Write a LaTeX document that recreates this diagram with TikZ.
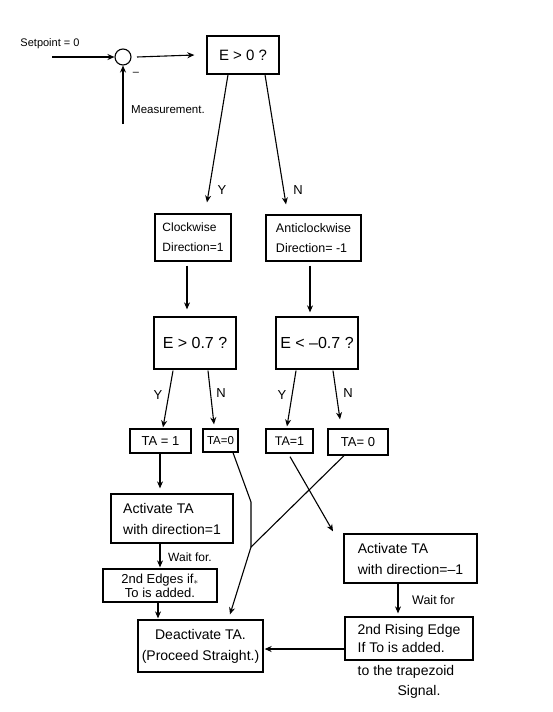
\documentclass[tikz,border=0pt]{standalone}
\usepackage{fontspec}
\setmainfont{Liberation Sans}
\usetikzlibrary{arrows.meta}
\newcommand{\myfs}[2]{\fontsize{#1}{#2}\selectfont}
\tikzset{
  box/.style={draw, line width=1.3pt, inner sep=2pt, align=center},
  conn/.style={line width=1.1pt, -{Stealth[length=7pt,width=6pt]}},
  plain/.style={line width=1.1pt},
  lbl/.style={inner sep=0pt, font=\myfs{13}{16}},
}
\begin{document}
\begin{tikzpicture}[x=1pt,y=-1pt]
\useasboundingbox[fill=white] (0,0) rectangle (553,712);

% summing junction
\node[draw, circle, line width=1.1pt, minimum size=16pt, inner sep=0pt] (sum) at (123,57) {};
\node[inner sep=0pt, font=\myfs{11}{13}] (sptxt) at (50,44) {Setpoint = 0};
\coordinate (sp) at (52,57);
\draw[conn] (sp) -- (sum.west);
\node[inner sep=0pt, font=\myfs{11}{13}] (minus) at (136,74) {--};
\coordinate (meas) at (123,124);
\draw[conn] (meas) -- (sum.south);
\node[inner sep=0pt, font=\myfs{11.5}{13}, anchor=west] (meastxt) at (131,110) {Measurement.};

% boxes
\node[box, minimum width=72pt, minimum height=38pt, font=\myfs{15}{17}] (e0) at (243,55) {E > 0 ?};
\coordinate (so) at (137,57);
\draw[conn] (so) -- ([xshift=-12pt]e0.west);

\node[box, minimum width=76pt, minimum height=47pt, font=\myfs{12}{20}, align=left] (cw) at (193,237.5) {Clockwise\\Direction=1};
\node[box, minimum width=95pt, minimum height=46pt, font=\myfs{12.5}{20}, align=left] (acw) at (313.5,238) {Anticlockwise\\Direction= -1};

\draw[conn] ([xshift=-15pt]e0.south) -- ([xshift=14pt,yshift=11pt]cw.north);
\draw[conn] ([xshift=22pt]e0.south) -- ([xshift=-27.5pt,yshift=10pt]acw.north);
\node[lbl] (y1) at (222,190) {Y};
\node[lbl] (n1) at (298,190) {N};

\node[box, minimum width=82pt, minimum height=52pt, font=\myfs{16}{18}] (e07) at (195,343) {E > 0.7 ?};
\node[box, minimum width=82pt, minimum height=52pt, font=\myfs{16}{18}] (em07) at (317,343) {E < --0.7 ?};

\draw[conn] ([xshift=-6pt,yshift=-4pt]cw.south) -- ([xshift=-8pt,yshift=7pt]e07.north);
\draw[conn] ([xshift=-3.5pt,yshift=-4pt]acw.south) -- ([xshift=-7pt,yshift=4pt]em07.north);

\node[box, minimum width=61pt, minimum height=24pt, font=\myfs{13}{14}] (ta1) at (160.5,441) {TA = 1};
\node[box, minimum width=35pt, minimum height=23pt, font=\myfs{11.5}{13}, inner sep=1pt] (ta0) at (220.5,440.5) {TA=0};
\node[box, minimum width=47pt, minimum height=24pt, font=\myfs{12.5}{13}] (ta1b) at (289.5,441) {TA=1};
\node[box, minimum width=60pt, minimum height=26pt, font=\myfs{13}{14}] (ta0b) at (358,442) {TA= 0};

\draw[conn] ([xshift=-22pt,yshift=-1pt]e07.south) -- ([xshift=2.5pt,yshift=1pt]ta1.north);
\draw[conn] ([xshift=13pt,yshift=-1pt]e07.south) -- ([xshift=-6.5pt,yshift=4pt]ta0.north);
\draw[conn] ([xshift=-21pt,yshift=-1pt]em07.south) -- ([xshift=-2.5pt,yshift=2pt]ta1b.north);
\draw[conn] ([xshift=16pt,yshift=-1pt]em07.south) -- ([xshift=-18pt,yshift=9pt]ta0b.north);
\node[lbl] (y2) at (158,395) {Y};
\node[lbl] (n2) at (221,393) {N};
\node[lbl] (y3) at (282,395) {Y};
\node[lbl] (n3) at (348,393) {N};

\node[box, minimum width=122pt, minimum height=49pt, font=\myfs{14}{21}, align=left] (act1) at (172,518.5) {Activate TA\\ with direction=1};
\node[box, minimum width=114pt, minimum height=33pt, font=\myfs{13}{14}, inner sep=1pt] (edge1) at (160,585.5) {2nd Edges if$_*$\\To is added.};
\node[box, minimum width=125pt, minimum height=52pt, font=\myfs{14}{21}, inner sep=1pt] (deact) at (200.5,646) {Deactivate TA.\\(Proceed Straight.)};
\node[box, minimum width=133pt, minimum height=49pt, font=\myfs{14}{21}, align=left] (act2) at (410.5,558.5) {Activate TA\\with direction=--1};
\node[box, minimum width=128pt, minimum height=43pt, font=\myfs{14}{18}, align=left] (edge2) at (409,638.5) {2nd Rising Edge\\If To is added.};

\draw[conn] ([xshift=-0.5pt]ta1.south) -- ([xshift=-12pt,yshift=5pt]act1.north);
\draw[conn] ([xshift=-12pt]act1.south) -- ([yshift=1pt]edge1.north);
\node[inner sep=0pt, anchor=west, font=\myfs{12}{14}] (wait1) at (168,557) {Wait for.};
\draw[conn] ([xshift=-2pt]edge1.south) -- ([xshift=-42.5pt,yshift=1pt]deact.north);

\coordinate (j1) at (251,502);
\coordinate (j2) at (251,547);
\draw[plain] ([xshift=12.5pt]ta0.south) -- (j1) -- (j2);
\draw[plain] ([xshift=-14pt]ta0b.south) -- (j2);
\draw[conn] (j2) -- ([xshift=29.5pt,yshift=5pt]deact.north);

\draw[conn] ([xshift=0.5pt,yshift=-3pt]ta1b.south) -- ([xshift=-77.5pt,yshift=2pt]act2.north);
\draw[conn] ([xshift=-12.5pt]act2.south) -- ([xshift=-11pt,yshift=3pt]edge2.north);
\node[inner sep=0pt, anchor=west, font=\myfs{12.5}{14}] (wait2) at (412,600) {Wait for};
\draw[conn] ([yshift=-10.5pt]edge2.west) -- ([yshift=-3pt,xshift=1pt]deact.east);

\node[inner sep=0pt, font=\myfs{14}{16}] (trap1) at (406,672) {to the trapezoid};
\node[inner sep=0pt, font=\myfs{14}{16}] (trap2) at (419,692) {Signal.};
\end{tikzpicture}
\end{document}
